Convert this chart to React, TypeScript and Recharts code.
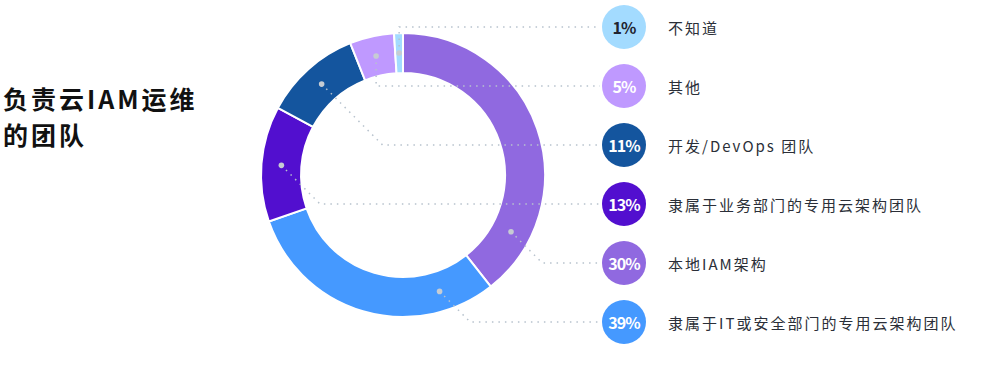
import React from "react";
import { Cell, Pie, PieChart } from "recharts";

// arc order, clockwise from 12 o'clock
const categories = [
  "本地IAM架构",
  "隶属于IT或安全部门的专用云架构团队",
  "隶属于业务部门的专用云架构团队",
  "开发/DevOps 团队",
  "其他",
  "不知道",
];
// arc sizes as drawn in the ring
const shares = [39, 30, 13, 11, 5, 1];
// percentages as printed in the badges
const percentLabels = ["30%", "39%", "13%", "11%", "5%", "1%"];
// legend row (top = 0) for each category
const legendRow = [4, 5, 3, 2, 1, 0];

const COLORS = ["#9069E0", "#4599FF", "#520FCF", "#14559E", "#BF99FF", "#A3DBFF"];
// where along each slice the leader dot sits (0 = start, 1 = end)
const ANCHOR = [0.83, 0.19, 0.5, 0.5, 0.5, 0.5];

const chartData = categories.map((name, i) => ({ name, value: shares[i] }));

const FONT = '"Noto Sans CJK SC", "Noto Sans", sans-serif';
const ROW_TOP = 27;
const ROW_GAP = 59;
const BADGE_X = 624;
const DOT_R = 122;

const renderLabel = (props: any) => {
  const { cx, cy, index } = props;
  const RAD = Math.PI / 180;
  const start = props.startAngle ?? props.midAngle;
  const end = props.endAngle ?? props.midAngle;
  const a = start + (end - start) * ANCHOR[index];
  const px = cx + DOT_R * Math.cos(-a * RAD);
  const py = cy + DOT_R * Math.sin(-a * RAD);
  const rowY = ROW_TOP + legendRow[index] * ROW_GAP;
  const elbowX = py - cy < -110 ? px : px + Math.abs(rowY - py);
  const dark = index === categories.length - 1;
  return (
    <g key={`lbl-${index}`}>
      <polyline
        points={`${px},${py} ${elbowX},${rowY} ${BADGE_X - 24},${rowY}`}
        fill="none"
        stroke="#b7c2cd"
        strokeWidth={1.5}
        strokeDasharray="1.5 5"
      />
      <circle cx={px} cy={py} r={2.8} fill="#c6ccd3" />
      <circle cx={BADGE_X} cy={rowY} r={22} fill={COLORS[index]} />
      <text
        x={BADGE_X}
        y={rowY}
        textAnchor="middle"
        dominantBaseline="central"
        fontFamily={FONT}
        fontWeight={700}
        fontSize={16}
        letterSpacing={-1}
        fill={dark ? "#1f2330" : "#ffffff"}
      >
        {percentLabels[index]}
      </text>
      <text
        x={668}
        y={rowY}
        dominantBaseline="central"
        fontFamily={FONT}
        fontSize={15}
        letterSpacing={2}
        fill="#2b2f38"
      >
        {categories[index]}
      </text>
    </g>
  );
};

export default function App() {
  return (
    <div
      style={{
        position: "absolute",
        left: 0,
        top: 0,
        width: 983,
        height: 366,
        background: "#fff",
      }}
    >
      <div
        style={{
          position: "absolute",
          left: 3,
          top: 80,
          fontFamily: FONT,
          fontWeight: 700,
          fontSize: 25,
          letterSpacing: 3,
          lineHeight: "36px",
          color: "#111",
        }}
      >
        负责云IAM运维
        <br />
        的团队
      </div>
      <PieChart
        width={983}
        height={366}
        margin={{ top: 0, right: 0, bottom: 0, left: 0 }}
        style={{ position: "absolute", left: 0, top: 0 }}
      >
        <Pie
          data={chartData}
          dataKey="value"
          nameKey="name"
          cx={403}
          cy={175}
          innerRadius={102}
          outerRadius={142}
          startAngle={90}
          endAngle={-270}
          stroke="#ffffff"
          strokeWidth={2}
          label={renderLabel}
          labelLine={false}
          isAnimationActive={false}
        >
          {chartData.map((d, i) => (
            <Cell key={d.name} fill={COLORS[i]} />
          ))}
        </Pie>
      </PieChart>
    </div>
  );
}
